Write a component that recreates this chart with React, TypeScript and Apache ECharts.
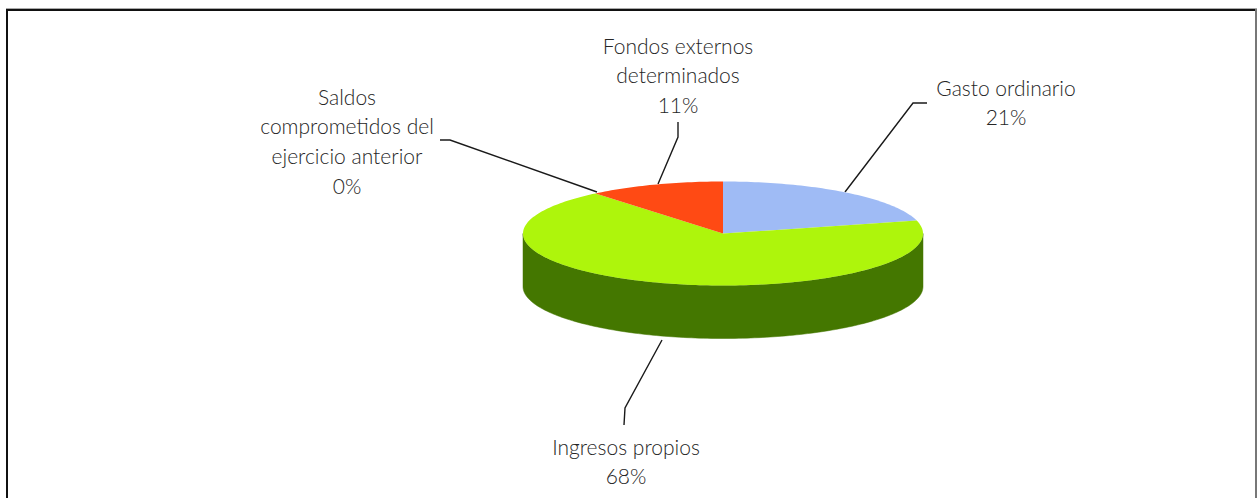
import React, { useEffect, useRef } from "react";
import * as echarts from "echarts";

const categories = ["Gasto ordinario", "Ingresos propios", "Saldos comprometidos del ejercicio anterior", "Fondos externos determinados"];
const values = [21, 68, 0, 11];
const topColors = ["#9FBBF5", "#AEF50C", "#7A7A7A", "#FF4A14"];
const sideColors = ["#6F83AC", "#447700", "#555555", "#B23410"];
const labelLines = [
  ["Gasto ordinario", "21%"],
  ["Ingresos propios", "68%"],
  ["Saldos", "comprometidos del", "ejercicio anterior", "0%"],
  ["Fondos externos", "determinados", "11%"],
];

const CX = 723, CY = 233.5, RX = 200, RY = 52, DEPTH = 53;
const total = values.reduce((a, b) => a + b, 0);
const TAU = Math.PI * 2;
const pt = (a: number, dy = 0) => [CX + RX * Math.sin(a), CY - RY * Math.cos(a) + dy];
const arc = (a0: number, a1: number, dy = 0) => {
  const n = Math.max(2, Math.ceil((a1 - a0) / 0.02));
  const out: number[][] = [];
  for (let i = 0; i <= n; i++) out.push(pt(a0 + ((a1 - a0) * i) / n, dy));
  return out;
};

const renderItem = (params: any, api: any) => {
  const i = params.dataIndex;
  const v = api.value(0);
  if (!v) return { type: "group", children: [] };
  let before = 0;
  for (let k = 0; k < i; k++) before += values[k];
  const a0 = (before / total) * TAU;
  const a1 = ((before + v) / total) * TAU;
  const children: any[] = [];
  const s0 = Math.max(a0, Math.PI / 2);
  const s1 = Math.min(a1, (Math.PI * 3) / 2);
  if (s1 > s0) {
    children.push({
      type: "polygon",
      shape: { points: [...arc(s0, s1), ...arc(s0, s1, DEPTH).reverse()] },
      style: { fill: sideColors[i], stroke: sideColors[i], lineWidth: 0.5 },
    });
  }
  children.push({
    type: "polygon",
    shape: { points: [[CX, CY], ...arc(a0, a1)] },
    style: { fill: topColors[i] },
  });
  return { type: "group", children };
};

const labelBlocks = [
  { x: 1006, y: 87 },
  { x: 626, y: 446 },
  { x: 347, y: 96 },
  { x: 678, y: 45 },
];
const leaders = [
  [[927, 103], [913, 103], [845, 192]],
  [[662, 340], [625, 408], [624, 425]],
  [[440, 140], [450, 140], [597, 192]],
  [[678, 122], [678, 137], [658, 184]],
];
const LINE = 29.7;

export default function App() {
  const ref = useRef<HTMLDivElement>(null);
  useEffect(() => {
    document.body.style.margin = "0";
    const chart = echarts.init(ref.current!, undefined, { renderer: "svg" });
    const graphic: any[] = [
      { type: "rect", shape: { x: 0, y: 0, width: 1257, height: 498 }, style: { fill: "#fff" }, z: -10 },
      { type: "line", shape: { x1: 6, y1: 8.5, x2: 1257, y2: 8.5 }, style: { stroke: "#aaa", lineWidth: 1 } },
      { type: "line", shape: { x1: 6, y1: 10, x2: 1256, y2: 10 }, style: { stroke: "#111", lineWidth: 2 } },
      { type: "line", shape: { x1: 7, y1: 9, x2: 7, y2: 498 }, style: { stroke: "#111", lineWidth: 2 } },
      { type: "line", shape: { x1: 1256, y1: 9, x2: 1256, y2: 498 }, style: { stroke: "#777", lineWidth: 2 } },
    ];
    leaders.forEach((points) =>
      graphic.push({ type: "polyline", shape: { points }, style: { stroke: "#1a1a1a", fill: "none", lineWidth: 1.4 } })
    );
    labelLines.forEach((lines, i) => {
      lines.forEach((t, j) =>
        graphic.push({
          type: "text",
          x: labelBlocks[i].x,
          y: labelBlocks[i].y + j * LINE,
          style: {
            text: t,
            fontFamily: "Lato",
            fontSize: 21,
            fontWeight: 300,
            fill: "#262626",
            align: "center",
            verticalAlign: "middle",
          },
        })
      );
    });
    chart.setOption({
      animation: false,
      graphic,
      series: [
        {
          type: "custom",
          coordinateSystem: "none",
          renderItem,
          data: values.map((v, i) => ({ name: categories[i], value: [v] })),
          silent: true,
          z: 1,
        },
      ],
    });
    return () => chart.dispose();
  }, []);
  return <div ref={ref} style={{ width: 1257, height: 498 }} />;
}
